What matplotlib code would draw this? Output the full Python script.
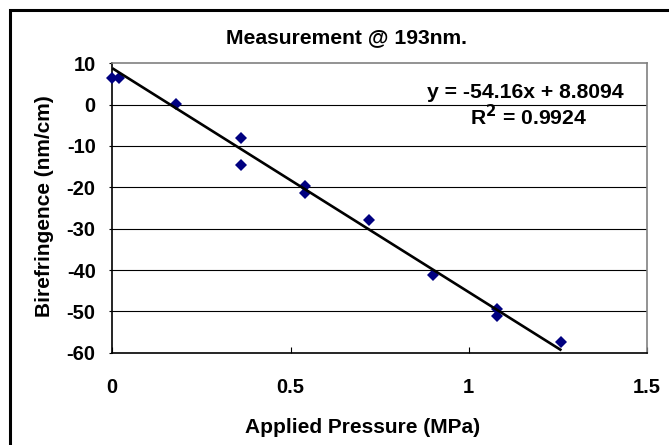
import matplotlib
matplotlib.use("Agg")
import matplotlib.pyplot as plt
from matplotlib.patches import Rectangle
import numpy as np

# Data
pressure = [0.0, 0.02, 0.18, 0.36, 0.36, 0.54, 0.54, 0.72, 0.90, 1.08, 1.08, 1.26]
birefringence = [6.5, 6.5, 0.1, -8.1, -14.6, -19.6, -21.3, -27.9, -41.1, -49.4, -51.1, -57.5]
slope = -54.16
intercept = 8.8094
r_squared = 0.9924
x_ticks = [0, 0.5, 1, 1.5]
x_tick_labels = ["0", "0.5", "1", "1.5"]
y_ticks = [10, 0, -10, -20, -30, -40, -50, -60]
y_tick_labels = ["10", "0", "-10", "-20", "-30", "-40", "-50", "-60"]

plt.rcParams['font.family'] = ['Liberation Sans', 'DejaVu Sans']
plt.rcParams['font.weight'] = 'bold'
plt.rcParams['mathtext.default'] = 'bf'

W, H = 669, 445
fig = plt.figure(figsize=(W / 100, H / 100), dpi=100)

def fx(px):
    return px / W

def fy(py):
    return 1 - py / H

left, right, top, bottom = 112.3, 647.0, 63.3, 352.7
ax = fig.add_axes([fx(left), fy(bottom), fx(right) - fx(left), fy(top) - fy(bottom)])

ax.set_xlim(0, 1.5)
ax.set_ylim(-60, 10)

# gridlines
for yv in y_ticks:
    if -60 < yv < 10:
        ax.axhline(yv, color='black', lw=0.8, zorder=1)

ax.plot(pressure, birefringence, linestyle='none', marker='D', markersize=6.2,
        color='#000080', markeredgewidth=0, zorder=4, clip_on=False)

xs = np.array([min(pressure), max(pressure)])
ax.plot(xs, slope * xs + intercept, color='black', lw=1.9, zorder=5, solid_capstyle='butt',
        clip_on=False)

ax.set_xticks(x_ticks)
ax.set_xticklabels(x_tick_labels)
ax.set_yticks(y_ticks)
ax.set_yticklabels(y_tick_labels)

ax.tick_params(axis='x', direction='in', length=4.3, width=0.8, pad=18, labelsize=14.5, color='black')
ax.tick_params(axis='y', direction='out', length=2, width=0.8, pad=10, labelsize=14.5, color='black')
for lab in ax.get_xticklabels() + ax.get_yticklabels():
    lab.set_fontweight('bold')

ax.spines['left'].set_color('black')
ax.spines['bottom'].set_color('black')
ax.spines['left'].set_linewidth(1.2)
ax.spines['bottom'].set_linewidth(1.2)
ax.spines['top'].set_color('#808080')
ax.spines['right'].set_color('#808080')
ax.spines['top'].set_linewidth(1.2)
ax.spines['right'].set_linewidth(1.2)

# texts
fig.text(fx(347.0), fy(42.7), "Measurement @ 193nm.", ha='center', va='baseline',
         fontsize=15.2, fontweight='bold')
fig.text(fx(362.6), fy(433.3), "Applied Pressure (MPa)", ha='center', va='baseline',
         fontsize=15, fontweight='bold')
fig.text(fx(45), fy(206), "Birefringence (nm/cm)", ha='center', va='center',
         rotation=90, fontsize=15, fontweight='bold')

fig.text(fx(624.0), fy(97.5), f"y = {slope}x + {intercept}", ha='right', va='baseline',
         fontsize=15.2, fontweight='bold')
fig.text(fx(528.5), fy(125), f"R$^{{2}}$ = {r_squared}", ha='center', va='baseline',
         fontsize=15.2, fontweight='bold')

# outer chart border
fig.add_artist(Rectangle((fx(10), fy(470)), fx(700) - fx(10), fy(10) - fy(470),
                         transform=fig.transFigure, fill=False, edgecolor='black',
                         lw=2.2, clip_on=False))

fig.savefig("out.png", dpi=100)
